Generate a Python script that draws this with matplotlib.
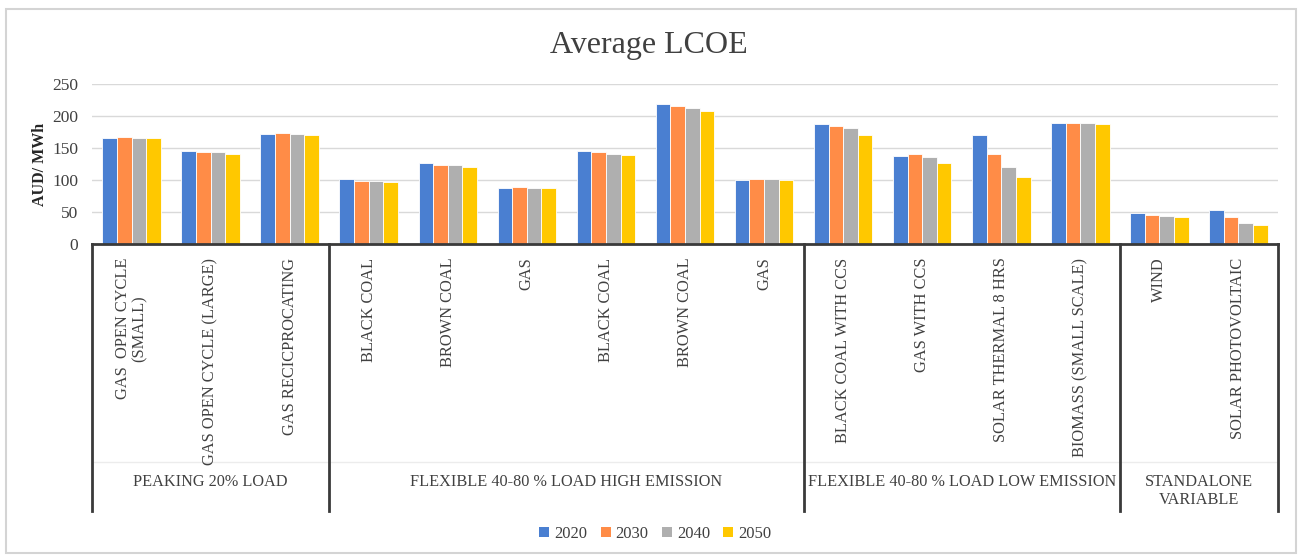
import matplotlib.pyplot as plt
from matplotlib.patches import Rectangle, Patch

plt.rcParams['font.family'] = ['Liberation Serif', 'DejaVu Serif']

categories = ['GAS  OPEN CYCLE\n(SMALL)', 'GAS OPEN CYCLE (LARGE)', 'GAS RECICPROCATING',
              'BLACK COAL', 'BROWN COAL', 'GAS',
              'BLACK COAL', 'BROWN COAL', 'GAS',
              'BLACK COAL WITH CCS', 'GAS WITH CCS', 'SOLAR THERMAL 8 HRS', 'BIOMASS (SMALL SCALE)',
              'WIND', 'SOLAR PHOTOVOLTAIC']
groups = ['PEAKING 20% LOAD', 'FLEXIBLE 40-80 % LOAD HIGH EMISSION',
          'FLEXIBLE 40-80 % LOAD LOW EMISSION', 'STANDALONE\nVARIABLE']
group_sizes = [3, 6, 4, 2]

years = ['2020', '2030', '2040', '2050']
v2020 = [165, 146, 172, 101, 126, 87, 146, 218, 100, 188, 137, 171, 189, 49, 53]
v2030 = [167, 143, 174, 99, 124, 89, 143, 215, 101, 185, 140, 140, 189, 45, 42]
v2040 = [165, 143, 172, 99, 123, 87, 141, 212, 101, 181, 136, 120, 189, 44, 33]
v2050 = [165, 141, 171, 97, 120, 87, 139, 208, 100, 170, 127, 104, 188, 42, 29]
series = [v2020, v2030, v2040, v2050]
colors = ['#4A7FD1', '#FF8C47', '#AFAFAF', '#FFC800']

W, H = 1298, 557
fig = plt.figure(figsize=(W / 100, H / 100), dpi=100)
fig.patches.append(Rectangle((6 / W, 4 / H), 1290 / W, 544 / H, transform=fig.transFigure,
                             fill=False, edgecolor='#d4d4d4', linewidth=1.5))

ax = fig.add_axes([92 / W, 1 - 244 / H, (1278 - 92) / W, 160 / H])

n = len(categories)
bw = 0.185
for i, (vals, c) in enumerate(zip(series, colors)):
    xs = [k + (i - 1.5) * bw for k in range(n)]
    ax.bar(xs, vals, width=bw, color=c, edgecolor='white', linewidth=0.6, zorder=3)

ax.set_xlim(-0.5, n - 0.5)
ax.set_ylim(0, 250)
ax.set_yticks(range(0, 251, 50))
ax.yaxis.grid(True, color='#d9d9d9', linewidth=1, zorder=0)
ax.set_xticks([])
for s in ax.spines.values():
    s.set_visible(False)
ax.tick_params(axis='y', length=0, labelsize=12.5, labelcolor='#404040', pad=10)

# category table under the axis
tr = ax.get_xaxis_transform()
line_c = '#3a3a3a'
depth = -(511 - 244) / 160
ax.plot([-0.5, n - 0.5], [0, 0], color=line_c, lw=2, transform=tr, clip_on=False, zorder=4)
ax.plot([-0.5, n - 0.5], [-(462 - 244) / 160] * 2, color='#ececec', lw=1, transform=tr, clip_on=False)
bounds = [-0.5]
for g in group_sizes:
    bounds.append(bounds[-1] + g)
for b in bounds:
    ax.plot([b, b], [0, depth], color=line_c, lw=2, transform=tr, clip_on=False)

for k, lab in enumerate(categories):
    ax.text(k, -0.085, lab, rotation=90, ha='center', va='top', multialignment='center',
            fontsize=11.8, color='#404040', transform=tr, linespacing=1.1)

for g, (a, b) in enumerate(zip(bounds[:-1], bounds[1:])):
    ax.text((a + b) / 2, -1.435, groups[g], ha='center', va='top', multialignment='center',
            fontsize=11.7, color='#404040', transform=tr, linespacing=1.2)

fig.text(0.5, 1 - 45 / H, 'Average LCOE', ha='center', va='center', fontsize=23, color='#404040')
fig.text(40 / W, 1 - 164 / H, 'AUD/ MWh', rotation=90, ha='center', va='center',
         fontsize=11.5, fontweight='bold', color='#262626')

handles = [Patch(facecolor=c, edgecolor='none') for c in colors]
fig.legend(handles, years, loc='center', bbox_to_anchor=(0.505, 1 - 534 / H), ncol=4,
           frameon=False, fontsize=12, handlelength=0.6, handleheight=0.6,
           handletextpad=0.3, columnspacing=0.8, labelcolor='#404040')

fig.savefig('out.png', dpi=100)
